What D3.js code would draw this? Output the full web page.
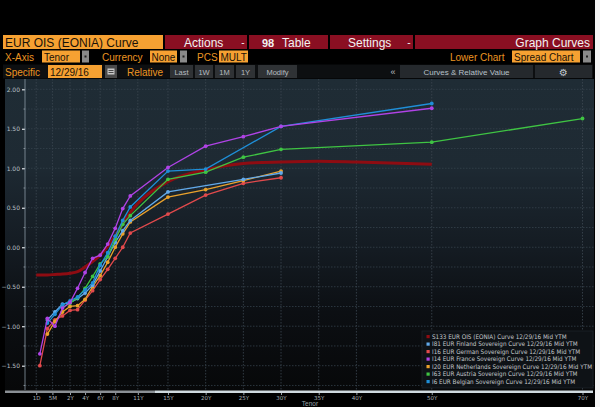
<!DOCTYPE html>
<html><head><meta charset="utf-8">
<script src="https://cdn.jsdelivr.net/npm/d3@7"></script>
<style>body{margin:0;background:#fff;overflow:hidden}svg{display:block}</style>
</head><body><svg id="c" width="600" height="407"></svg>
<script>
// ---------- DATA ----------
const tenorLabels = ["1D","1M","3M","6M","1Y","2Y","3Y","4Y","5Y","6Y","7Y","8Y","9Y","10Y","15Y","20Y","25Y","30Y","35Y","40Y","50Y","70Y"];
const tenorYears  = [1/365,1/12,0.25,0.5,1,2,3,4,5,6,7,8,9,10,15,20,25,30,35,40,50,70];

const eonia       = [-0.35,-0.352,-0.35,-0.345,-0.34,-0.33,-0.31,-0.25,-0.18,-0.10,0.01,0.14,0.30,0.44,0.83,0.98,1.06,1.08,1.09,1.08,1.05,null];
const finland     = [null,null,-0.92,-0.82,-0.72,-0.70,-0.65,-0.58,-0.48,-0.30,-0.12,0.06,0.21,0.34,0.70,null,0.86,0.94,null,null,null,null];
const germany     = [null,-1.50,-1.03,-0.92,-0.87,-0.80,-0.79,-0.67,-0.55,-0.41,-0.28,-0.14,0.00,0.18,0.42,0.66,0.81,0.88,null,null,null,null];
const france      = [null,-1.35,-0.90,-1.00,-0.77,-0.70,-0.52,-0.32,-0.14,-0.10,0.04,0.24,0.49,0.65,1.01,1.28,1.40,1.53,null,null,1.76,null];
const netherlands = [null,null,-1.10,-0.94,-0.82,-0.75,-0.74,-0.66,-0.50,-0.36,-0.19,0.00,0.17,0.32,0.635,0.73,0.845,0.965,null,null,null,null];
const austria     = [null,null,null,null,-0.76,-0.71,-0.64,-0.52,-0.37,-0.21,-0.12,0.10,0.29,0.40,0.86,0.95,1.14,1.24,null,null,1.33,1.63];
const belgium     = [null,null,-0.96,-0.85,-0.73,-0.68,-0.63,-0.54,-0.45,-0.23,-0.07,0.14,0.34,0.51,0.965,0.99,null,1.53,null,null,1.82,null];

const seriesNames = [
  "S133 EUR OIS (EONIA) Curve 12/29/16 Mid YTM",
  "I81 EUR Finland Sovereign Curve 12/29/16 Mid YTM",
  "I16 EUR German Sovereign Curve 12/29/16 Mid YTM",
  "I14 EUR France Sovereign Curve 12/29/16 Mid YTM",
  "I20 EUR Netherlands Sovereign Curve 12/29/16 Mid YTM",
  "I63 EUR Austria Sovereign Curve 12/29/16 Mid YTM",
  "I6 EUR Belgian Sovereign Curve 12/29/16 Mid YTM"
];
const seriesValues = [eonia, finland, germany, france, netherlands, austria, belgium];
const seriesColors = ["#8e0c12","#62aaeb","#e24a4c","#b043e6","#eaa22c","#3fc443","#1f8fd8"];

const xTickYears  = [1/365,5/12,2,4,6,8,11,15,20,25,30,35,40,50,70];
const xTickLabels = ["1D","5M","2Y","4Y","6Y","8Y","11Y","15Y","20Y","25Y","30Y","35Y","40Y","50Y","70Y"];
const yTicks = [-1.5,-1.0,-0.5,0,0.5,1.0,1.5,2.0];
const yMinor = [-1.75,-1.25,-0.75,-0.25,0.25,0.75,1.25,1.75];

// ---------- LAYOUT ----------
const svg = d3.select("#c");
const ORANGE = "#f6a132", ORTXT = "#eb9522", DRED = "#8a0f22";
const UIF = "'Liberation Sans', Arial, sans-serif";

svg.append("rect").attr("width",600).attr("height",407).attr("fill","#000");
svg.append("rect").attr("x",595).attr("width",5).attr("height",407).attr("fill","#f4f4f4");

function box(x,y,w,h,fill,parent){ return (parent||svg).append("rect").attr("x",x).attr("y",y).attr("width",w).attr("height",h).attr("fill",fill); }
function txt(x,y,s,fill,size,anchor,weight){
  return svg.append("text").attr("x",x).attr("y",y).text(s).attr("fill",fill)
    .attr("font-family",UIF).attr("font-size",size).attr("text-anchor",anchor||"start")
    .attr("font-weight",weight||"normal");
}

// Row 1
box(3,35,160,14,ORANGE);
txt(5,46.5,"EUR OIS (EONIA) Curve","#1a1208",12);
box(165,35,82,14,DRED); txt(184,46.5,"Actions","#f2f2f2",12); txt(243,46,"-","#f2f2f2",10,"middle");
box(249,35,79,14,DRED); txt(262,46.5,"98","#f2f2f2",11,"start","bold"); txt(282,46.5,"Table","#f2f2f2",12);
box(330,35,83,14,DRED); txt(348,46.5,"Settings","#f2f2f2",12); txt(409,46,"-","#f2f2f2",10,"middle");
box(415,35,178,14,DRED); txt(590,46.5,"Graph Curves","#f2f2f2",12,"end");

// Row 2
txt(5,60.5,"X-Axis",ORTXT,10);
box(42,50.5,38,12,ORANGE); txt(44,60.5,"Tenor","#1a1208",10);
box(82,50.5,7,12,"#8a8a8a"); box(84.5,55.5,2,2,"#222");
txt(102,60.5,"Currency",ORTXT,10);
box(150,50.5,27,12,ORANGE); txt(151.5,60.5,"None","#1a1208",10);
box(180,50.5,7,12,"#8a8a8a"); box(182.5,55.5,2,2,"#222");
txt(197,60.5,"PCS",ORTXT,10);
box(219,50.5,29,12,ORANGE); txt(220.5,60.5,"MULT","#1a1208",10);
txt(450,60.5,"Lower Chart",ORTXT,10);
box(512,50.5,68,12,ORANGE); txt(514,60.5,"Spread Chart","#1a1208",10);
box(583,50.5,8,12,"#8a8a8a"); box(586,55.5,2,2,"#222");

// Row 3
box(3,64.5,590,14,"#0d0f11");
txt(5,75.5,"Specific",ORTXT,10);
box(48,65,54,13,ORANGE); txt(50,75.5,"12/29/16","#1a1208",10);
box(105,65,12,13,"#4a4a4a"); box(107.5,68.5,7,6,"#c8c8c8"); box(108.5,70,5,1,"#4a4a4a"); box(108.5,72,5,1,"#4a4a4a");
txt(127,75.5,"Relative",ORTXT,10);
[["Last",170,23],["1W",195,18],["1M",215,19],["1Y",236,19],["Modify",258,39]].forEach(b=>{
  box(b[1],65,b[2],13,"#2f3235"); txt(b[1]+b[2]/2,74.5,b[0],"#b8bcc0",7.5,"middle");
});
txt(393,75,"«","#b8bcc0",9,"middle");
box(400,65,133,13,"#25292d"); txt(466.5,74.5,"Curves & Relative Value","#b8c0c8",8,"middle");
box(535,65,57,13,"#25292d"); txt(563.5,75.5,"⚙","#c0c6cc",10,"middle").attr("font-family","DejaVu Sans");

// ---------- CHART ----------
const plotTop = 79, plotBottom = 390, axisX = 25, plotRight = 594;
const defs = svg.append("defs");
const grad = defs.append("linearGradient").attr("id","bg").attr("x1",0).attr("y1",0).attr("x2",0).attr("y2",1);
[[0,"#1f2c35"],[0.28,"#1e2a33"],[0.32,"#1c2730"],[0.55,"#141b22"],[0.75,"#0c0f13"],[1,"#070809"]].forEach(s=>
  grad.append("stop").attr("offset",s[0]).attr("stop-color",s[1]));
box(5,plotTop,plotRight-5,plotBottom-plotTop,"url(#bg)");

// x scale: piecewise linear, short-end tenors equally spaced
const yrPx = (582.5-70)/68;
const x = d3.scaleLinear()
  .domain([1/12,0.25,0.5,1,2,70])
  .range([70-4*yrPx,70-3*yrPx,70-2*yrPx,70-yrPx,70,582.5]);
const y = d3.scaleLinear().domain([-1.5,2]).range([365.7,89.3]);

const grid = svg.append("g");
xTickYears.forEach(t=>{
  grid.append("line").attr("x1",x(t)).attr("x2",x(t)).attr("y1",plotTop).attr("y2",plotBottom)
    .attr("stroke","#3c4852").attr("stroke-width",0.8).attr("stroke-dasharray","1.5,1.5");
});
yTicks.concat(yMinor).forEach(v=>{
  grid.append("line").attr("x1",axisX).attr("x2",plotRight).attr("y1",y(v)).attr("y2",y(v))
    .attr("stroke","#35414b").attr("stroke-width",0.8).attr("stroke-dasharray","1.5,1.5");
});

// y axis
const yAxis = svg.append("g").attr("transform",`translate(${axisX},0)`)
  .call(d3.axisLeft(y).tickValues(yTicks).tickFormat(d3.format(".2f")).tickSize(3).tickPadding(2));
yAxis.select(".domain").remove();
yAxis.selectAll("line").attr("stroke","#e0e4e8").attr("stroke-width",1.2);
yAxis.selectAll("text").attr("fill","#b8c0c6").attr("font-size",6).attr("font-family","'DejaVu Sans', sans-serif");
svg.append("line").attr("x1",axisX).attr("x2",axisX).attr("y1",plotTop).attr("y2",plotBottom)
  .attr("stroke","#8c9aa4").attr("stroke-width",0.8);
yMinor.forEach(v=>svg.append("line").attr("x1",axisX-1.5).attr("x2",axisX).attr("y1",y(v)).attr("y2",y(v))
  .attr("stroke","#9aa4ac").attr("stroke-width",0.8));

// series
const lineGen = d3.line().x(d=>x(d.t)).y(d=>y(d.v));
const seriesData = seriesValues.map(vals=>vals.map((v,i)=>({t:tenorYears[i],v:v})).filter(d=>d.v!==null));
const order = [0,2,4,1,5,6,3];
order.forEach(si=>{
  const data = seriesData[si];
  if(si===0){
    svg.append("path").datum(data).attr("d",lineGen.curve(d3.curveMonotoneX))
      .attr("fill","none").attr("stroke",seriesColors[0]).attr("stroke-width",3).attr("stroke-linejoin","round");
  } else {
    svg.append("path").datum(data).attr("d",lineGen.curve(d3.curveLinear))
      .attr("fill","none").attr("stroke",seriesColors[si]).attr("stroke-width",1.3);
    svg.append("g").selectAll("circle").data(data).join("circle")
      .attr("cx",d=>x(d.t)).attr("cy",d=>y(d.v)).attr("r",1.9).attr("fill",seriesColors[si]);
  }
});

// x axis bar + labels
box(5,390.5,150,2.5,"#8a8f94");
box(155,390.5,438,2.5,"#cfd9de");
const xAxis = svg.append("g").attr("transform","translate(0,393)")
  .call(d3.axisBottom(x).tickValues(xTickYears).tickFormat((d,i)=>xTickLabels[i]).tickSize(2).tickPadding(1.5));
xAxis.select(".domain").remove();
xAxis.selectAll("line").attr("stroke","#9aa4ac");
xAxis.selectAll("text").attr("fill","#aab2b8").attr("font-size",5.5).attr("font-family","'DejaVu Sans', sans-serif");
txt(310,406,"Tenor","#9aa2a8",6.5,"middle");

// legend
const lg = svg.append("g");
box(422,331,171,57,"#0e1216",lg).attr("stroke","#23292f").attr("stroke-width",0.6);
seriesNames.forEach((n,i)=>{
  const ly = 337 + i*7.5;
  lg.append("rect").attr("x",426.5).attr("y",ly-2).attr("width",3.2).attr("height",3.2).attr("fill",seriesColors[i]);
  lg.append("text").attr("x",432).attr("y",ly+1.8).text(n).attr("fill","#c4c8cc")
    .attr("font-size",6.3).attr("font-family","'DejaVu Sans Condensed','DejaVu Sans',sans-serif");
});
</script></body></html>
